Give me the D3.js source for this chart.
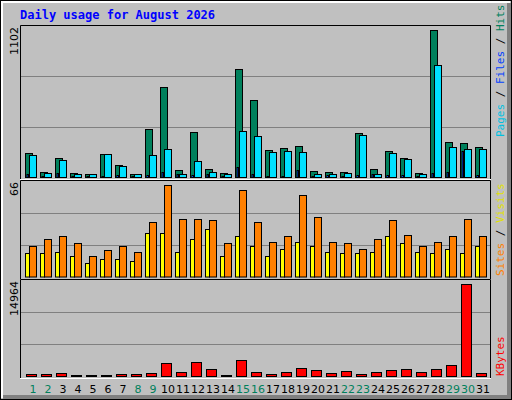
<!DOCTYPE html>
<html>
<head>
<meta charset="utf-8">
<script src="https://cdn.jsdelivr.net/npm/d3@7"></script>
<style>
  body { margin: 0; background: #fff; }
  svg { display: block; }
</style>
</head>
<body>
<div id="chart"></div>
<script>
const days = d3.range(1, 32);
const weekendDays = [1, 2, 8, 9, 15, 16, 22, 23, 29, 30];
const hits = [178, 39, 141, 32, 24, 170, 90, 24, 353, 659, 54, 331, 61, 32, 791, 564,
  199, 214, 229, 46, 39, 39, 324, 61, 192, 141, 32, 1075, 258, 251, 221];
const files = [163, 32, 127, 19, 19, 170, 83, 19, 163, 207, 24, 119, 39, 19, 338, 302,
  185, 192, 185, 24, 24, 32, 309, 24, 178, 134, 24, 820, 221, 207, 207];
const pages = [19, 10, 27, 8, 6, 8, 14, 6, 12, 39, 24, 12, 24, 8, 71, 19,
  6, 10, 49, 10, 12, 10, 14, 24, 14, 12, 8, 32, 34, 192, 14];
const sites = [16, 16, 17, 14, 9, 12, 12, 11, 30, 30, 17, 26, 33, 14, 28, 21,
  14, 19, 24, 21, 17, 16, 16, 17, 28, 23, 17, 16, 19, 16, 21];
const visits = [21, 26, 28, 23, 14, 18, 21, 17, 38, 63, 40, 40, 39, 23, 60, 38,
  24, 28, 56, 41, 24, 23, 19, 26, 39, 29, 21, 24, 28, 40, 28];
const kbytes = [366, 366, 523, 209, 209, 209, 366, 366, 523, 2093, 680, 2250, 1151, 209, 2564, 680,
  366, 680, 1308, 994, 523, 837, 366, 680, 994, 1151, 680, 1151, 1779, 14336, 523];
const maxHits = 1102, maxVisits = 66, maxKbytes = 14964;

const W = 512, H = 400;
const svg = d3.select('#chart').append('svg').attr('width', W).attr('height', H);

// background and 3d frame
svg.append('rect').attr('width', W).attr('height', H).attr('fill', '#c0c0c0');
svg.append('rect').attr('x', 0.5).attr('y', 0.5).attr('width', W - 1).attr('height', H - 1)
  .attr('fill', 'none').attr('stroke', '#000');
svg.append('path').attr('d', `M2,${H - 2} L2,2 L${W - 2},2`).attr('fill', 'none')
  .attr('stroke', '#fff').attr('stroke-width', 2);
svg.append('rect').attr('x', W - 5).attr('y', 3).attr('width', 4).attr('height', H - 4).attr('fill', '#808080');
svg.append('rect').attr('x', 3).attr('y', H - 5).attr('width', W - 4).attr('height', 4).attr('fill', '#808080');

svg.append('text').attr('x', 20).attr('y', 19)
  .attr('font-family', 'DejaVu Sans Mono').attr('font-weight', 'bold').attr('font-size', 12)
  .attr('fill', '#0000ff').text('Daily usage for August 2026');

const x = d3.scaleBand().domain(days).range([22, 487]);

const panels = [
  { top: 25, bottom: 179, y: d3.scaleLinear().domain([0, maxHits]).range([177, 26]), max: maxHits },
  { top: 180, bottom: 279, y: d3.scaleLinear().domain([0, maxVisits]).range([276.5, 181]), max: maxVisits },
  { top: 279, bottom: 378, y: d3.scaleLinear().domain([0, maxKbytes]).range([376, 280]), max: maxKbytes }
];

panels.forEach((p) => {
  // gridlines at thirds
  svg.append('g').selectAll('line').data([p.max / 3, 2 * p.max / 3]).join('line')
    .attr('x1', 21).attr('x2', 490)
    .attr('y1', (d) => Math.round(p.y(d)) + 0.5).attr('y2', (d) => Math.round(p.y(d)) + 0.5)
    .attr('stroke', '#808080');
  svg.append('path').attr('d', `M20.5,${p.bottom} L20.5,${p.top + 0.5} L490.5,${p.top + 0.5} L490.5,${p.bottom}`)
    .attr('fill', 'none').attr('stroke', '#000');
  svg.append('line').attr('x1', 20).attr('x2', 491).attr('y1', p.bottom + 0.5).attr('y2', p.bottom + 0.5)
    .attr('stroke', '#fff');
  svg.append('text')
    .attr('transform', `translate(18,${p.top + 2}) rotate(-90)`)
    .attr('text-anchor', 'end').attr('font-family', 'DejaVu Sans').attr('font-size', 11)
    .attr('fill', '#000').text(p.max);
});

function bars(data, y, dx, w, fill) {
  svg.append('g').selectAll('rect').data(data).join('rect')
    .attr('x', (d, i) => x(days[i]) + dx + 0.5)
    .attr('y', (d) => Math.round(y(d)) + 0.5)
    .attr('width', w)
    .attr('height', (d) => Math.max(0, y(0) - Math.round(y(d))))
    .attr('fill', fill).attr('stroke', '#000');
}

bars(hits, panels[0].y, 3, 7, '#00805c');
bars(files, panels[0].y, 7, 7, '#00e0ff');
bars(pages, panels[0].y, 4.5, 1.5, '#0040ff');
bars(sites, panels[1].y, 3, 4, '#ffff00');
bars(visits, panels[1].y, 7, 7, '#ff8000');
bars(kbytes, panels[2].y, 4, 10, '#ff0000');

// day labels
svg.append('g').selectAll('text').data(days).join('text')
  .attr('x', (d) => x(d) + 11).attr('y', 393)
  .attr('text-anchor', 'middle').attr('font-family', 'DejaVu Sans').attr('font-size', 11)
  .attr('fill', (d) => weekendDays.includes(d) ? '#00805c' : '#000')
  .text((d) => d);

// right side legends
function legend(yBottom, parts) {
  const t = svg.append('text')
    .attr('transform', `translate(504,${yBottom}) rotate(-90)`)
    .attr('font-family', 'DejaVu Sans Mono').attr('font-size', 11);
  parts.forEach(([s, c]) => t.append('tspan').attr('fill', c).text(s));
}
legend(137, [['Pages', '#00c0e0'], [' / ', '#000'], ['Files', '#0040ff'], [' / ', '#000'], ['Hits', '#00805c']]);
legend(276, [['Sites', '#ff8000'], [' / ', '#000'], ['Visits', '#e0e000']]);
legend(376, [['KBytes', '#ff0000']]);
</script>
</body>
</html>
